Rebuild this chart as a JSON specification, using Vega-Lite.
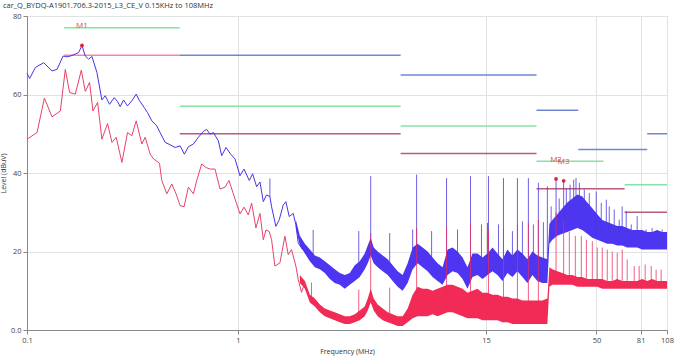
{
"$schema": "https://vega.github.io/schema/vega-lite/v6.json",
"width": 640, "height": 314,
"autosize": "none",
"padding": {"left": 27, "top": 16, "right": 13, "bottom": 29},
"background": "white",
"title": {"text": "car_Q_BYDQ-A1901.706.3-2015_L3_CE_V 0.15KHz to 108MHz", "anchor": "start", "frame": "group", "dx": -24, "offset": 3, "fontSize": 7.5, "fontWeight": "normal", "color": "#333333", "font": "Open Sans"},
"config": {
  "font": "Open Sans",
  "view": {"stroke": "#a8a8a8", "strokeWidth": 1},
  "axis": {"labelFontSize": 7.5, "labelColor": "#444444", "titleFontSize": 7, "titleFontWeight": "normal", "titleColor": "#333333", "gridColor": "#e2e2e2", "domainColor": "#888888", "tickColor": "#888888", "tickSize": 4, "labelPadding": 2}
},
"datasets": {
  "lim": [
    {"f1": 0.15, "f2": 0.53, "v": 77, "k": "g"},
    {"f1": 0.53, "f2": 5.9, "v": 57, "k": "g"},
    {"f1": 5.9, "f2": 26, "v": 52, "k": "g"},
    {"f1": 26, "f2": 54, "v": 43, "k": "g"},
    {"f1": 68, "f2": 108, "v": 37, "k": "g"},
    {"f1": 0.15, "f2": 0.53, "v": 70, "k": "p1"},
    {"f1": 0.53, "f2": 5.9, "v": 50, "k": "p"},
    {"f1": 5.9, "f2": 26, "v": 45, "k": "p"},
    {"f1": 26, "f2": 68, "v": 36, "k": "p"},
    {"f1": 68, "f2": 108, "v": 30, "k": "p"},
    {"f1": 0.53, "f2": 5.9, "v": 70, "k": "b"},
    {"f1": 5.9, "f2": 26, "v": 65, "k": "b"},
    {"f1": 26, "f2": 41, "v": 56, "k": "b"},
    {"f1": 41, "f2": 87, "v": 46, "k": "b"},
    {"f1": 87, "f2": 108, "v": 50, "k": "b"}
  ],
  "blue": [
    {"f":0.1,"v":65.4},{"f":0.103,"v":64.1},{"f":0.1096,"v":66.9},{"f":0.12,"v":68.1},{"f":0.1314,"v":66.0},{"f":0.1388,"v":66.4},{"f":0.1482,"v":69.8},{"f":0.1547,"v":69.6},{"f":0.1605,"v":69.8},{"f":0.1694,"v":70.3},{"f":0.1757,"v":70.7},{"f":0.1822,"v":72.5},{"f":0.1889,"v":69.8},{"f":0.1959,"v":69.0},{"f":0.2032,"v":69.7},{"f":0.2145,"v":65.6},{"f":0.2265,"v":58.6},{"f":0.2349,"v":59.7},{"f":0.2462,"v":57.5},{"f":0.2591,"v":59.2},{"f":0.2687,"v":58.2},{"f":0.2765,"v":56.9},{"f":0.2868,"v":58.6},{"f":0.2995,"v":57.1},{"f":0.3141,"v":58.4},{"f":0.3292,"v":60.1},{"f":0.3414,"v":58.4},{"f":0.3592,"v":56.7},{"f":0.3725,"v":55.4},{"f":0.3905,"v":53.3},{"f":0.4123,"v":52.0},{"f":0.4276,"v":50.3},{"f":0.4515,"v":47.8},{"f":0.477,"v":47.2},{"f":0.5035,"v":46.5},{"f":0.5317,"v":46.9},{"f":0.5572,"v":44.8},{"f":0.5821,"v":46.7},{"f":0.6147,"v":47.4},{"f":0.649,"v":49.1},{"f":0.6855,"v":50.6},{"f":0.711,"v":51.1},{"f":0.7372,"v":49.9},{"f":0.7646,"v":50.3},{"f":0.8071,"v":48.2},{"f":0.8372,"v":44.4},{"f":0.8774,"v":46.5},{"f":0.9232,"v":44.8},{"f":0.9679,"v":43.6},{"f":1.022,"v":39.3},{"f":1.068,"v":41.0},{"f":1.131,"v":38.1},{"f":1.173,"v":39.8},{"f":1.226,"v":36.5},{"f":1.271,"v":37.7},{"f":1.318,"v":32.7},{"f":1.366,"v":34.4},{"f":1.417,"v":34.0},{"f":1.443,"v":31.4},{"f":1.512,"v":26.4},{"f":1.569,"v":28.1},{"f":1.638,"v":31.8},{"f":1.687,"v":32.7},{"f":1.749,"v":28.9},{"f":1.827,"v":29.7},{"f":1.881,"v":26.8},{"f":1.93,"v":22.2},{"f":2.022,"v":20.5}
  ],
  "red": [
    {"f":0.1,"v":48.6},{"f":0.1116,"v":50.3},{"f":0.1209,"v":59.1},{"f":0.1314,"v":54.3},{"f":0.1439,"v":55.8},{"f":0.1519,"v":66.4},{"f":0.1592,"v":60.5},{"f":0.1694,"v":60.1},{"f":0.1809,"v":66.2},{"f":0.1889,"v":60.8},{"f":0.198,"v":63.1},{"f":0.2054,"v":55.8},{"f":0.2161,"v":58.0},{"f":0.2265,"v":48.6},{"f":0.2409,"v":52.6},{"f":0.2527,"v":47.8},{"f":0.2648,"v":49.1},{"f":0.2817,"v":42.7},{"f":0.2995,"v":50.3},{"f":0.3141,"v":49.5},{"f":0.3292,"v":53.3},{"f":0.3502,"v":47.4},{"f":0.3632,"v":49.1},{"f":0.3835,"v":44.8},{"f":0.3977,"v":43.6},{"f":0.4245,"v":42.5},{"f":0.4354,"v":38.1},{"f":0.4599,"v":34.7},{"f":0.4857,"v":37.2},{"f":0.5088,"v":34.7},{"f":0.5317,"v":31.7},{"f":0.5553,"v":31.4},{"f":0.5821,"v":36.4},{"f":0.6147,"v":34.7},{"f":0.6375,"v":38.1},{"f":0.6731,"v":42.3},{"f":0.7056,"v":41.4},{"f":0.7372,"v":41.0},{"f":0.7785,"v":41.0},{"f":0.8221,"v":35.9},{"f":0.868,"v":36.4},{"f":0.9066,"v":38.1},{"f":0.9504,"v":34.7},{"f":1.022,"v":29.6},{"f":1.068,"v":31.3},{"f":1.119,"v":29.3},{"f":1.161,"v":32.3},{"f":1.216,"v":26.0},{"f":1.271,"v":29.7},{"f":1.318,"v":23.0},{"f":1.357,"v":25.5},{"f":1.406,"v":25.1},{"f":1.443,"v":23.0},{"f":1.496,"v":16.3},{"f":1.58,"v":17.1},{"f":1.669,"v":23.9},{"f":1.73,"v":19.2},{"f":1.794,"v":20.5},{"f":1.881,"v":16.3},{"f":1.93,"v":12.9},{"f":2.001,"v":9.6},{"f":2.075,"v":12.1}
  ],
  "bband": [
    {"f":1.881,"lo":26,"hi":28},{"f":1.965,"lo":21.5,"hi":24},{"f":2.075,"lo":19.5,"hi":22},{"f":2.191,"lo":17.5,"hi":20.5},{"f":2.314,"lo":16,"hi":19},{"f":2.443,"lo":15.5,"hi":18.5},{"f":2.58,"lo":14.5,"hi":17.5},{"f":2.724,"lo":13,"hi":16.5},{"f":2.876,"lo":12,"hi":15.5},{"f":3.038,"lo":11.5,"hi":14.5},{"f":3.208,"lo":10.5,"hi":14},{"f":3.387,"lo":11.5,"hi":14.5},{"f":3.577,"lo":12.5,"hi":16.5},{"f":3.777,"lo":13.5,"hi":17.5},{"f":3.988,"lo":15.5,"hi":19.5},{"f":4.121,"lo":17,"hi":21.5},{"f":4.257,"lo":19,"hi":23.5},{"f":4.398,"lo":17,"hi":21},{"f":4.595,"lo":16,"hi":20},{"f":4.852,"lo":15,"hi":19},{"f":5.124,"lo":14,"hi":18},{"f":5.41,"lo":12.5,"hi":16.5},{"f":5.713,"lo":11,"hi":15},{"f":6.033,"lo":10,"hi":14},{"f":6.37,"lo":12,"hi":17},{"f":6.727,"lo":15.5,"hi":21},{"f":7.103,"lo":17,"hi":22},{"f":7.501,"lo":16,"hi":21},{"f":7.92,"lo":15,"hi":20},{"f":8.364,"lo":13.5,"hi":18.5},{"f":8.832,"lo":12.5,"hi":17},{"f":9.326,"lo":11.5,"hi":16},{"f":9.849,"lo":14,"hi":20.5},{"f":10.4,"lo":15,"hi":21},{"f":10.98,"lo":14.5,"hi":20},{"f":11.6,"lo":13,"hi":18.5},{"f":12.24,"lo":10.5,"hi":16},{"f":12.93,"lo":13.5,"hi":19.5},{"f":13.65,"lo":14,"hi":19.5},{"f":14.42,"lo":13,"hi":18.5},{"f":15.23,"lo":14,"hi":19.5},{"f":16.08,"lo":15,"hi":21},{"f":16.98,"lo":14,"hi":19.5},{"f":17.93,"lo":12.5,"hi":18},{"f":18.93,"lo":14.5,"hi":20.5},{"f":19.99,"lo":13.5,"hi":19},{"f":21.11,"lo":15,"hi":20.5},{"f":22.29,"lo":13.5,"hi":19.5},{"f":23.54,"lo":12,"hi":18},{"f":24.86,"lo":14,"hi":20},{"f":26.25,"lo":12.5,"hi":19},{"f":27.72,"lo":12,"hi":18.5},{"f":29.27,"lo":12,"hi":18},{"f":29.92,"lo":22,"hi":27},{"f":30.91,"lo":23,"hi":28},{"f":32.64,"lo":24,"hi":29.5},{"f":34.46,"lo":24.5,"hi":31},{"f":36.39,"lo":25,"hi":32.5},{"f":38.43,"lo":25.5,"hi":33.5},{"f":40.58,"lo":26,"hi":34.5},{"f":42.85,"lo":25.5,"hi":34},{"f":45.25,"lo":24.5,"hi":32.5},{"f":47.78,"lo":23.5,"hi":31},{"f":50.45,"lo":23,"hi":29.5},{"f":53.28,"lo":22.5,"hi":28},{"f":56.26,"lo":22,"hi":27.5},{"f":59.4,"lo":22,"hi":27},{"f":62.73,"lo":21.5,"hi":26.5},{"f":66.24,"lo":21.5,"hi":26.5},{"f":69.94,"lo":21,"hi":26},{"f":73.86,"lo":21,"hi":25.5},{"f":78,"lo":21,"hi":25.5},{"f":82.36,"lo":20.5,"hi":25.5},{"f":86.97,"lo":20.5,"hi":25},{"f":91.84,"lo":20.5,"hi":25},{"f":96.97,"lo":20.5,"hi":25.5},{"f":102.4,"lo":20.5,"hi":25},{"f":108,"lo":20.5,"hi":25}
  ],
  "rband": [
    {"f":1.965,"lo":12,"hi":14},{"f":2.075,"lo":10.5,"hi":12.5},{"f":2.191,"lo":7,"hi":9},{"f":2.314,"lo":6,"hi":8},{"f":2.443,"lo":4.5,"hi":6.5},{"f":2.58,"lo":3.5,"hi":5.5},{"f":2.724,"lo":3,"hi":5},{"f":2.876,"lo":2.5,"hi":4.5},{"f":3.038,"lo":2,"hi":4},{"f":3.208,"lo":1.5,"hi":3.5},{"f":3.387,"lo":1.5,"hi":3.5},{"f":3.577,"lo":2,"hi":4},{"f":3.777,"lo":2.5,"hi":5},{"f":3.988,"lo":3.5,"hi":6},{"f":4.121,"lo":5,"hi":8},{"f":4.257,"lo":7,"hi":10.5},{"f":4.398,"lo":5,"hi":8},{"f":4.595,"lo":3.5,"hi":6.5},{"f":4.852,"lo":2.5,"hi":5.5},{"f":5.124,"lo":2,"hi":4.5},{"f":5.41,"lo":1.5,"hi":4},{"f":5.713,"lo":1,"hi":3.5},{"f":6.033,"lo":1,"hi":3.5},{"f":6.37,"lo":2,"hi":5.5},{"f":6.727,"lo":3,"hi":9},{"f":7.103,"lo":3.5,"hi":11},{"f":7.501,"lo":3.5,"hi":10.5},{"f":7.92,"lo":3.5,"hi":10.5},{"f":8.364,"lo":4,"hi":10},{"f":8.832,"lo":3.5,"hi":10.5},{"f":9.326,"lo":4,"hi":11},{"f":9.849,"lo":4.5,"hi":11.5},{"f":10.4,"lo":4.5,"hi":11.5},{"f":10.98,"lo":4,"hi":11},{"f":11.6,"lo":3.5,"hi":10.5},{"f":12.24,"lo":3,"hi":9.5},{"f":12.93,"lo":3,"hi":10},{"f":13.65,"lo":3,"hi":10.5},{"f":14.42,"lo":2.5,"hi":9.5},{"f":15.23,"lo":2.5,"hi":9.5},{"f":16.08,"lo":2.5,"hi":9},{"f":16.98,"lo":2.5,"hi":9},{"f":17.93,"lo":2,"hi":8.5},{"f":18.93,"lo":2,"hi":8.5},{"f":19.99,"lo":1.5,"hi":8},{"f":21.11,"lo":1.5,"hi":8},{"f":22.29,"lo":1.5,"hi":7.5},{"f":23.54,"lo":1.5,"hi":7.5},{"f":24.86,"lo":1.5,"hi":7.5},{"f":26.25,"lo":1.5,"hi":7.5},{"f":27.72,"lo":1.5,"hi":7.5},{"f":29.27,"lo":1.5,"hi":8},{"f":29.92,"lo":11,"hi":16},{"f":30.91,"lo":11.5,"hi":15.5},{"f":32.64,"lo":11.5,"hi":15},{"f":34.46,"lo":11.5,"hi":14.5},{"f":36.39,"lo":11.5,"hi":14},{"f":38.43,"lo":11.5,"hi":14},{"f":40.58,"lo":11,"hi":13.5},{"f":42.85,"lo":11,"hi":13.5},{"f":45.25,"lo":11,"hi":13},{"f":47.78,"lo":11,"hi":13},{"f":50.45,"lo":11,"hi":13},{"f":53.28,"lo":10.5,"hi":13},{"f":56.26,"lo":10.5,"hi":12.5},{"f":59.4,"lo":10.5,"hi":12.5},{"f":62.73,"lo":10.5,"hi":13},{"f":66.24,"lo":10.5,"hi":12.5},{"f":69.94,"lo":10.5,"hi":12.5},{"f":73.86,"lo":10.5,"hi":12.5},{"f":78,"lo":10.5,"hi":12.5},{"f":82.36,"lo":10.5,"hi":13},{"f":86.97,"lo":10.5,"hi":12.5},{"f":91.84,"lo":10.5,"hi":13},{"f":96.97,"lo":10.5,"hi":12.5},{"f":102.4,"lo":10.5,"hi":12.5},{"f":108,"lo":10.5,"hi":12.5}
  ],
  "bspk": [
    {"f":1.417,"lo":34,"hi":38.6},{"f":2.272,"lo":18,"hi":25.5},{"f":3.737,"lo":15,"hi":25.2},{"f":4.257,"lo":21,"hi":39.2},{"f":5.236,"lo":15,"hi":24.7},{"f":6.727,"lo":18,"hi":25.6},{"f":7.025,"lo":19,"hi":39.6},{"f":8.274,"lo":16,"hi":25.2},{"f":9.741,"lo":16,"hi":38.7},{"f":10.98,"lo":17,"hi":25.6},{"f":12.65,"lo":15,"hi":39.2},{"f":14.26,"lo":15,"hi":26.9},{"f":15.23,"lo":16,"hi":27.3},{"f":15.39,"lo":16,"hi":39.2},{"f":17.17,"lo":16,"hi":26.9},{"f":18.13,"lo":16,"hi":38.7},{"f":19.99,"lo":16,"hi":25.2},{"f":21.11,"lo":17,"hi":38.7},{"f":22.29,"lo":16,"hi":27.7},{"f":23.79,"lo":16,"hi":38.7},{"f":25.13,"lo":16,"hi":26.9},{"f":26.53,"lo":15,"hi":37.5},{"f":28.03,"lo":15,"hi":27.5},{"f":29.27,"lo":15,"hi":36.6},{"f":30.5,"lo":24,"hi":31.5},{"f":32.18,"lo":25,"hi":38.5},{"f":33.3,"lo":27,"hi":33.5},{"f":34.96,"lo":27,"hi":38},{"f":36.0,"lo":28,"hi":36},{"f":37.5,"lo":28,"hi":37},{"f":39.0,"lo":28,"hi":38.3},{"f":40.0,"lo":29,"hi":38.7},{"f":41.5,"lo":28,"hi":37.5},{"f":43.8,"lo":27,"hi":35.8},{"f":46.25,"lo":26,"hi":34.9},{"f":49.9,"lo":25,"hi":35.3},{"f":52.7,"lo":24,"hi":32.4},{"f":55.7,"lo":24,"hi":33.2},{"f":57.5,"lo":23,"hi":31.5},{"f":60.7,"lo":23,"hi":30.7},{"f":64.1,"lo":23,"hi":28.1},{"f":66.2,"lo":23,"hi":31.5},{"f":69.2,"lo":22,"hi":30.3},{"f":73.1,"lo":22,"hi":26.9},{"f":78.0,"lo":22,"hi":29},{"f":86.0,"lo":22,"hi":25.6},{"f":91.8,"lo":22,"hi":26},{"f":97.0,"lo":22,"hi":25.2},{"f":102.4,"lo":22,"hi":25.6}
  ],
  "rspk": [
    {"f":2.231,"lo":7.5,"hi":12.1},{"f":3.737,"lo":3,"hi":10.3},{"f":4.257,"lo":9,"hi":24.7},{"f":5.236,"lo":3,"hi":10.8},{"f":7.025,"lo":8,"hi":26},{"f":9.741,"lo":9,"hi":26.4},{"f":12.65,"lo":8,"hi":27.3},{"f":15.39,"lo":8,"hi":25.6},{"f":18.13,"lo":7,"hi":26},{"f":21.11,"lo":7,"hi":26.9},{"f":23.79,"lo":7,"hi":27.3},{"f":26.53,"lo":7,"hi":28.1},{"f":32.18,"lo":14,"hi":30},{"f":34.96,"lo":14,"hi":28},{"f":37.2,"lo":14,"hi":25},{"f":39.7,"lo":13,"hi":24},{"f":42.4,"lo":13,"hi":24},{"f":44.8,"lo":13,"hi":23},{"f":47.8,"lo":13,"hi":22.6},{"f":50.45,"lo":13,"hi":21},{"f":53.28,"lo":13,"hi":21},{"f":56.26,"lo":12.5,"hi":20.5},{"f":59.4,"lo":12.5,"hi":20},{"f":62.73,"lo":12.5,"hi":19.7},{"f":66.24,"lo":12.5,"hi":20.5},{"f":69.94,"lo":12.5,"hi":18},{"f":75.5,"lo":12,"hi":16.3},{"f":79.7,"lo":12,"hi":16.3},{"f":85.1,"lo":12,"hi":16.7},{"f":90.9,"lo":12,"hi":16.3},{"f":95.9,"lo":12,"hi":15.4},{"f":101.3,"lo":12,"hi":15.4}
  ],
  "mk": [
    {"f":0.1822,"v":72.5,"m":"M1"},{"f":32.18,"v":38.5,"m":"M2"},{"f":34.96,"v":38,"m":"M3"}
  ]
},
"layer": [
  {"data": {"name": "lim"}, "mark": {"type": "rule", "strokeWidth": 1.5},
   "encoding": {
     "x": {"field": "f1", "type": "quantitative", "scale": {"type": "log", "domain": [0.1, 108], "nice": false},
           "axis": {"values": [0.1, 1, 15, 50, 81, 108], "labelExpr": "'' + datum.value", "labelFlush": false, "title": "Frequency (MHz)", "grid": true}},
     "x2": {"field": "f2"},
     "y": {"field": "v", "type": "quantitative", "scale": {"domain": [0, 80], "nice": false},
           "axis": {"values": [0, 10, 20, 30, 40, 50, 60, 70, 80], "labelExpr": "datum.value == 0 ? '0.0' : '' + datum.value", "title": "Level (dBuV)", "grid": true}},
     "color": {"field": "k", "type": "nominal", "scale": {"domain": ["g", "p1", "p", "b"], "range": ["#86e3a6", "#ef8a9c", "#b95b7b", "#7186d6"]}, "legend": null}
   }},
  {"data": {"name": "bband"}, "mark": {"type": "area", "color": "#3a1ff0", "opacity": 0.9},
   "encoding": {"x": {"field": "f", "type": "quantitative"}, "y": {"field": "lo", "type": "quantitative"}, "y2": {"field": "hi"}}},
  {"data": {"name": "blue"}, "mark": {"type": "line", "color": "#4536e4", "strokeWidth": 1},
   "encoding": {"x": {"field": "f", "type": "quantitative"}, "y": {"field": "v", "type": "quantitative"}}},
  {"data": {"name": "bspk"}, "mark": {"type": "rule", "color": "#4a3be0", "strokeWidth": 1, "opacity": 0.8},
   "encoding": {"x": {"field": "f", "type": "quantitative"}, "y": {"field": "lo", "type": "quantitative"}, "y2": {"field": "hi"}}},
  {"data": {"name": "rband"}, "mark": {"type": "area", "color": "#f01848", "opacity": 0.92},
   "encoding": {"x": {"field": "f", "type": "quantitative"}, "y": {"field": "lo", "type": "quantitative"}, "y2": {"field": "hi"}}},
  {"data": {"name": "red"}, "mark": {"type": "line", "color": "#e8436a", "strokeWidth": 1},
   "encoding": {"x": {"field": "f", "type": "quantitative"}, "y": {"field": "v", "type": "quantitative"}}},
  {"data": {"name": "rspk"}, "mark": {"type": "rule", "color": "#ee2a58", "strokeWidth": 1, "opacity": 0.75},
   "encoding": {"x": {"field": "f", "type": "quantitative"}, "y": {"field": "lo", "type": "quantitative"}, "y2": {"field": "hi"}}},
  {"data": {"name": "mk"}, "mark": {"type": "point", "filled": true, "color": "#e0203a", "size": 14, "opacity": 1},
   "encoding": {"x": {"field": "f", "type": "quantitative"}, "y": {"field": "v", "type": "quantitative"}}},
  {"data": {"name": "mk"}, "mark": {"type": "text", "color": "#e04848", "fontSize": 8, "dy": -19},
   "encoding": {"x": {"field": "f", "type": "quantitative"}, "y": {"field": "v", "type": "quantitative"}, "text": {"field": "m"}}}
]
}
